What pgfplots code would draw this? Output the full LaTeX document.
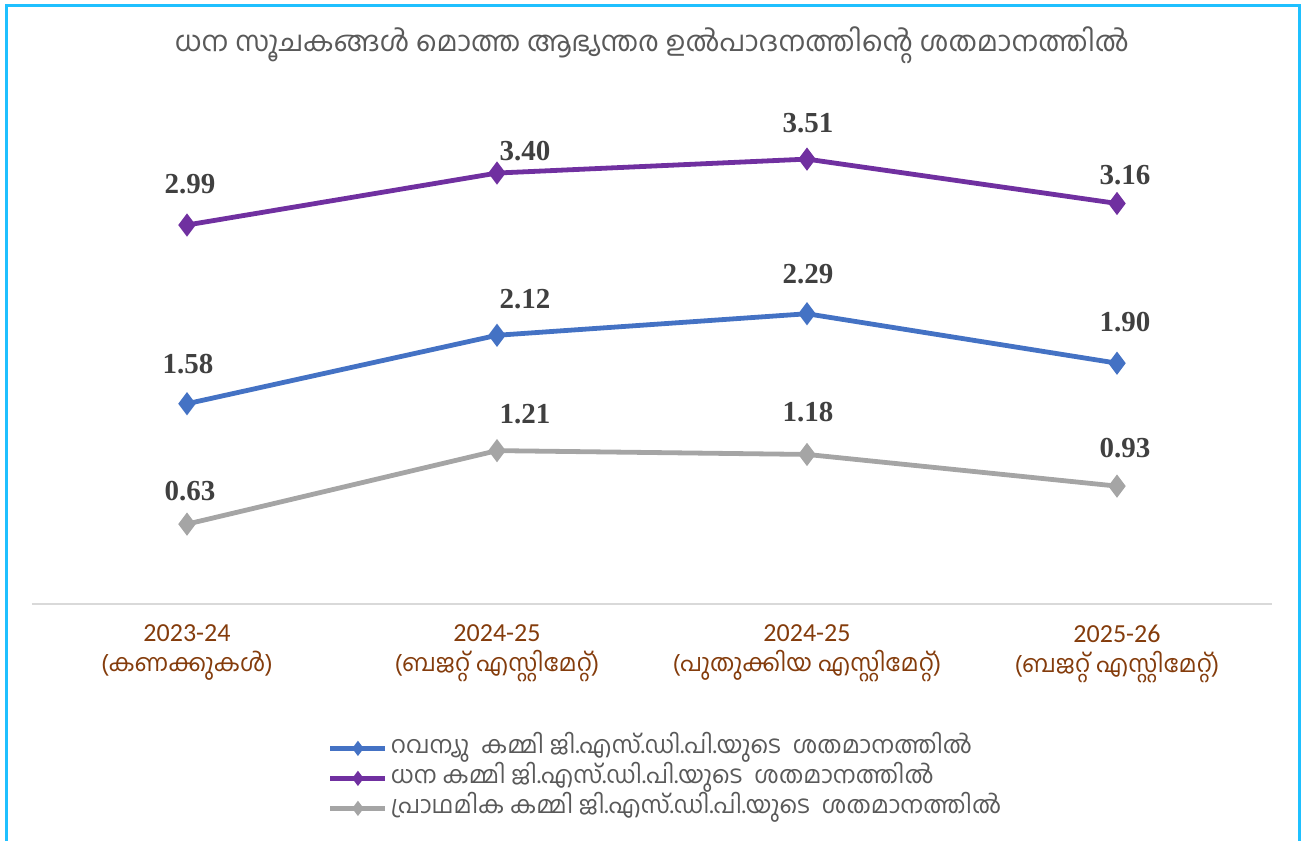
\documentclass[border=0pt]{standalone}
\usepackage{fontspec}
\usepackage{pgfplots}
\usepackage{pgfplotstable}
\pgfplotsset{compat=1.18}
\newfontfamily\ml[Script=Malayalam]{Hind Kochi}
\newfontfamily\nf{Carlito}
\newfontfamily\lblfont{Liberation Serif}
\definecolor{cblue}{HTML}{4472C4}
\definecolor{cpurple}{HTML}{7030A0}
\definecolor{cgray}{HTML}{A5A5A5}
\definecolor{cbrown}{HTML}{843C0C}
\definecolor{ctext}{HTML}{595959}
\definecolor{clbl}{HTML}{404040}
\definecolor{cframe}{HTML}{1FC0FF}
\definecolor{caxis}{HTML}{D9D9D9}

\pgfplotstableread{
x y dx dy
0 1.58 0.5 20
1 2.12 14 18
2 2.29 0.5 20
3 1.90 4 20.5
}\revdef
\pgfplotstableread{
x y dx dy
0 2.99 1.5 20.5
1 3.40 14 11
2 3.51 0.5 18
3 3.16 4 14
}\fisdef
\pgfplotstableread{
x y dx dy
0 0.63 1.5 16.5
1 1.21 14 18.5
2 1.18 0.5 21
3 0.93 4 19
}\pridef

\begin{document}
\begin{tikzpicture}
\path[use as bounding box] (0,0) rectangle (651.5pt,420.5pt);
\draw[cframe, line width=1.5pt] (3pt,-2pt) -- (3pt,417.5pt) -- (649.5pt,417.5pt) -- (649.5pt,-2pt);
\node[ctext, font=\ml\fontsize{14}{16}\selectfont] at (326pt,398pt) {ധന സൂചകങ്ങൾ മൊത്ത ആഭ്യന്തര ഉൽപാദനത്തിന്റെ ശതമാനത്തിൽ};
\begin{axis}[
  at={(16pt,118.5pt)}, anchor=south west,
  scale only axis, width=620pt, height=253.5pt,
  xmin=-0.5, xmax=3.5, ymin=0, ymax=4,
  axis y line=none,
  axis x line*=bottom,
  x axis line style={caxis, line width=1pt, -},
  xtick={0,1,2,3},
  xticklabels={{\nf\fontsize{13}{15}\selectfont 2023-24\\\ml\fontsize{12}{15}\selectfont (കണക്കുകൾ)},
               {\nf\fontsize{13}{15}\selectfont 2024-25\\\ml\fontsize{12}{15}\selectfont (ബജറ്റ് എസ്റ്റിമേറ്റ്)},
               {\nf\fontsize{13}{15}\selectfont 2024-25\\\ml\fontsize{12}{15}\selectfont (പുതുക്കിയ എസ്റ്റിമേറ്റ്)},
               {\nf\fontsize{13}{15}\selectfont 2025-26\\\ml\fontsize{12}{15}\selectfont (ബജറ്റ് എസ്റ്റിമേറ്റ്)}},
  x tick label style={align=center, text=cbrown, font=\fontsize{13}{15}\selectfont, yshift=-7pt},
  major tick length=0pt,
  clip=false,
  point meta=y,
  visualization depends on={\thisrow{dx} \as \dx},
  visualization depends on={\thisrow{dy} \as \dy},
  nodes near coords={\pgfmathprintnumber[fixed,fixed zerofill,precision=2,assume math mode=true]{\pgfplotspointmeta}},
  every node near coord/.append style={anchor=center, xshift=\dx pt, yshift=\dy pt, text=clbl, font=\lblfont\bfseries\fontsize{14.5}{16}\selectfont},
  legend style={draw=none, fill=none, at={(0.2335,-0.2465)}, anchor=north west,
     font=\ml\fontsize{12}{14}\selectfont, text=ctext, row sep=0pt,
     nodes={text height=10pt, text depth=5pt, inner ysep=0pt, inner xsep=1.5pt},
     /tikz/every even column/.append style={column sep=0pt}},
  legend cell align=left,
  legend image code/.code={
    \draw[line width=2.5pt] (0pt,0pt) -- (27.5pt,0pt);
    \draw[line width=1pt, mark=diamond*, mark size=3pt, mark options={solid}] plot coordinates {(13.75pt,0pt)};
  },
]
\addplot[cblue, line width=2.4pt, mark=diamond*, mark size=5pt, mark options={solid, line width=1pt}] table[x=x,y=y] {\revdef};
\addlegendentry{റവന്യു~ കമ്മി ജി.എസ്.ഡി.പി.യുടെ~ ശതമാനത്തിൽ}
\addplot[cpurple, line width=2.4pt, mark=diamond*, mark size=5pt, mark options={solid, line width=1pt}] table[x=x,y=y] {\fisdef};
\addlegendentry{ധന കമ്മി ജി.എസ്.ഡി.പി.യുടെ~ ശതമാനത്തിൽ}
\addplot[cgray, line width=2.4pt, mark=diamond*, mark size=5pt, mark options={solid, line width=1pt}] table[x=x,y=y] {\pridef};
\addlegendentry{പ്രാഥമിക കമ്മി ജി.എസ്.ഡി.പി.യുടെ~ ശതമാനത്തിൽ}
\end{axis}
\end{tikzpicture}
\end{document}
